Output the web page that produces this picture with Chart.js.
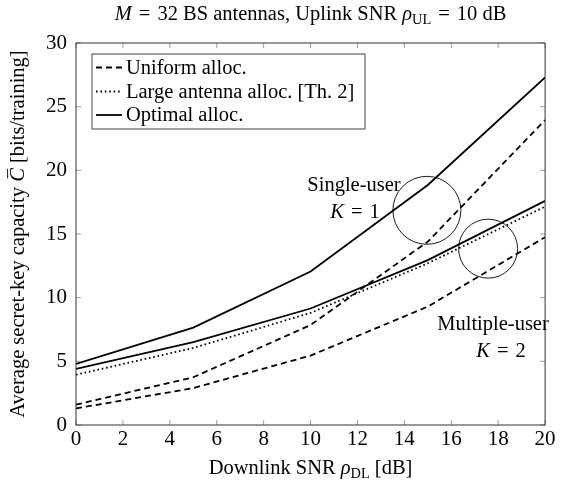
<!DOCTYPE html>
<html>
<head>
<meta charset="utf-8">
<script src="https://cdn.jsdelivr.net/npm/chart.js@4.4.0/dist/chart.umd.min.js"></script>
<style>
  body { margin: 0; background: #fff; }
</style>
</head>
<body>
<canvas id="chart" width="580" height="481"></canvas>
<script>
// data (x = downlink SNR in dB)
const snrDL = [0, 5, 10, 15, 20];
const singleOptimal = [4.8, 7.65, 12.05, 18.85, 27.3];
const singleUniform = [1.6, 3.75, 7.85, 14.4, 23.95];
const multiOptimal = [4.4, 6.5, 9.15, 12.95, 17.6];
const multiLarge = [3.95, 6.05, 8.8, 12.7, 17.15];
const multiUniform = [1.3, 2.9, 5.45, 9.3, 14.75];

const xTicks = [0, 2, 4, 6, 8, 10, 12, 14, 16, 18, 20];
const yTicks = [0, 5, 10, 15, 20, 25, 30];

// the two circled groups
const circleX = [14.96, 17.57];
const circleY = [16.86, 13.85];
const circleR = [34, 29.5];

const legendLabels = ["Uniform alloc.", "Large antenna alloc. [Th. 2]", "Optimal alloc."];

const SERIF = "'Liberation Serif', 'DejaVu Serif', serif";
const FS = 20.5;

function pts(ys) {
  return snrDL.map((x, i) => ({ x: x, y: ys[i] }));
}

const solid = [];
const dashed = [6, 4];
const dotted = [1.6, 2.8];

function lineSet(label, ys, dash) {
  return {
    label: label,
    data: pts(ys),
    borderColor: "#000",
    borderWidth: 1.8,
    borderDash: dash,
    pointRadius: 0,
    showLine: true,
    fill: false,
    tension: 0
  };
}

// rich text: segments of {t, it, sub, bar} or {gap}
function drawRich(ctx, segs, x, y, size, align) {
  const widths = segs.map(s => {
    if (s.gap) return s.gap;
    ctx.font = (s.it ? "italic " : "") + (s.sub ? size * 0.7 : size) + "px " + SERIF;
    return ctx.measureText(s.t).width;
  });
  const total = widths.reduce((a, b) => a + b, 0);
  let cx = align === "left" ? x : x - total / 2;
  ctx.textBaseline = "alphabetic";
  ctx.textAlign = "left";
  segs.forEach((s, i) => {
    if (!s.gap) {
      ctx.font = (s.it ? "italic " : "") + (s.sub ? size * 0.7 : size) + "px " + SERIF;
      ctx.fillText(s.t, cx, s.sub ? y + size * 0.2 : y);
    }
    if (s.bar) {
      ctx.beginPath();
      ctx.lineWidth = 0.9;
      ctx.moveTo(cx + widths[i] * 0.25, y - size * 0.8);
      ctx.lineTo(cx + widths[i] * 0.95, y - size * 0.8);
      ctx.stroke();
    }
    cx += widths[i];
  });
}

// math-style spacing around "="
const eq = [{ gap: 7 }, { t: "=" }, { gap: 7 }];

const decor = {
  id: "decor",
  afterDraw(chart) {
    const ctx = chart.ctx;
    const a = chart.chartArea;
    const xs = chart.scales.x, ys = chart.scales.y;
    ctx.save();

    // inward ticks
    ctx.strokeStyle = "#888";
    ctx.lineWidth = 0.8;
    ctx.beginPath();
    xTicks.forEach(v => {
      const px = xs.getPixelForValue(v);
      ctx.moveTo(px, a.bottom); ctx.lineTo(px, a.bottom - 5);
      ctx.moveTo(px, a.top); ctx.lineTo(px, a.top + 5);
    });
    yTicks.forEach(v => {
      const py = ys.getPixelForValue(v);
      ctx.moveTo(a.left, py); ctx.lineTo(a.left + 5, py);
      ctx.moveTo(a.right, py); ctx.lineTo(a.right - 5, py);
    });
    ctx.stroke();

    // frame
    ctx.strokeStyle = "#333";
    ctx.lineWidth = 1;
    ctx.strokeRect(a.left, a.top, a.right - a.left, a.bottom - a.top);

    // legend
    ctx.fillStyle = "#fff";
    ctx.fillRect(92, 54, 273, 75);
    ctx.strokeStyle = "#444";
    ctx.lineWidth = 1;
    ctx.strokeRect(92, 54, 273, 75);
    const dashes = [dashed, dotted, solid];
    const rowY = [67.5, 91.5, 115];
    ctx.fillStyle = "#000";
    legendLabels.forEach((lab, i) => {
      ctx.beginPath();
      ctx.strokeStyle = "#000";
      ctx.lineWidth = 1.8;
      ctx.setLineDash(dashes[i]);
      ctx.moveTo(96, rowY[i]);
      ctx.lineTo(122, rowY[i]);
      ctx.stroke();
      ctx.setLineDash([]);
      ctx.font = FS + "px " + SERIF;
      ctx.textAlign = "left";
      ctx.textBaseline = "middle";
      ctx.fillText(lab, 126, rowY[i] + 1);
    });

    // annotations
    ctx.fillStyle = "#000";
    ctx.strokeStyle = "#000";
    drawRich(ctx, [{ t: "Single-user" }], 354, 191, FS);
    drawRich(ctx, [{ t: "K", it: true }].concat(eq, [{ t: "1" }]), 355, 218, FS);
    drawRich(ctx, [{ t: "Multiple-user" }], 493, 330, FS);
    drawRich(ctx, [{ t: "K", it: true }].concat(eq, [{ t: "2" }]), 501, 357, FS);

    // title
    drawRich(ctx, [{ t: "M", it: true }].concat(eq, [
      { t: "32 BS antennas, Uplink SNR " },
      { t: "ρ", it: true }, { t: "UL", sub: true }], eq, [{ t: "10 dB" }]
    ), (a.left + a.right) / 2, 20, FS);

    // x axis title
    drawRich(ctx, [
      { t: "Downlink SNR " }, { t: "ρ", it: true }, { t: "DL", sub: true }, { t: " [dB]" }
    ], (a.left + a.right) / 2, 474, FS);

    // y axis title
    ctx.translate(24, (a.top + a.bottom) / 2);
    ctx.rotate(-Math.PI / 2);
    drawRich(ctx, [
      { t: "Average secret-key capacity " }, { t: "C", it: true, bar: true }, { t: " [bits/training]" }
    ], 0, 0, FS);
    ctx.restore();
  }
};

const ctx = document.getElementById("chart").getContext("2d");

const chart = new Chart(ctx, {
  type: "scatter",
  data: {
    datasets: [
      lineSet("single optimal", singleOptimal, solid),
      lineSet("single uniform", singleUniform, dashed),
      lineSet("multi optimal", multiOptimal, solid),
      lineSet("multi large", multiLarge, dotted),
      lineSet("multi uniform", multiUniform, dashed),
      {
        label: "circles",
        data: circleX.map((x, i) => ({ x: x, y: circleY[i] })),
        pointRadius: circleR,
        pointHoverRadius: circleR,
        pointBorderColor: "#000",
        pointBackgroundColor: "rgba(0,0,0,0)",
        pointBorderWidth: 0.9,
        showLine: false
      }
    ]
  },
  options: {
    responsive: false,
    animation: false,
    events: [],
    layout: { padding: { left: 0, top: 43, right: 19, bottom: 0 } },
    plugins: { legend: { display: false }, tooltip: { enabled: false }, title: { display: false } },
    scales: {
      x: {
        type: "linear",
        min: 0,
        max: 20,
        afterFit: s => { s.height = 56; },
        afterBuildTicks: s => { s.ticks = xTicks.map(v => ({ value: v })); },
        grid: { display: false, drawTicks: false },
        border: { display: false },
        ticks: { color: "#000", padding: 2, maxRotation: 0, font: { family: SERIF, size: 21 } }
      },
      y: {
        min: 0,
        max: 30,
        afterFit: s => { s.width = 76; },
        afterBuildTicks: s => { s.ticks = yTicks.map(v => ({ value: v })); },
        grid: { display: false, drawTicks: false },
        border: { display: false },
        ticks: { color: "#000", padding: 9, font: { family: SERIF, size: 21 } }
      }
    }
  },
  plugins: [decor]
});
</script>
</body>
</html>
